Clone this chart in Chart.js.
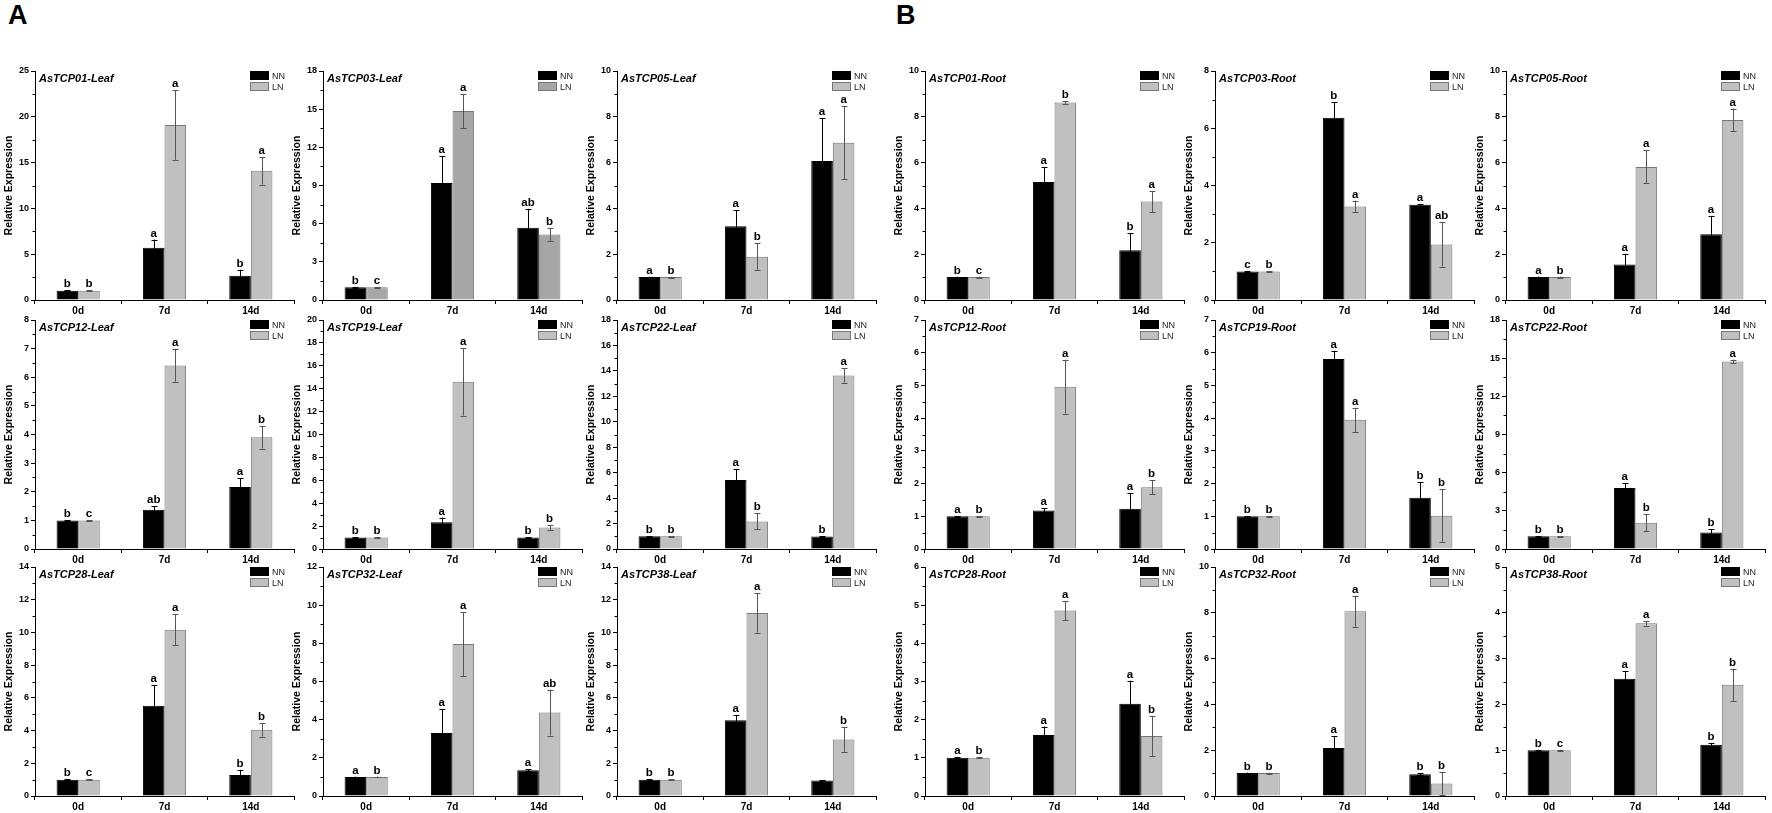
<!DOCTYPE html>
<html><head><meta charset="utf-8">
<script src="https://cdn.jsdelivr.net/npm/chart.js@4.4.1/dist/chart.umd.min.js"></script>
<style>
html,body{margin:0;padding:0;background:#fff;}
body{width:1772px;height:813px;position:relative;overflow:hidden;font-family:"Liberation Sans",Arial,sans-serif;}
canvas{position:absolute;}
.tag{position:absolute;font-weight:bold;font-size:27px;line-height:1;font-family:"Liberation Sans",Arial,sans-serif;}
</style></head><body>
<div class="tag" style="left:8px;top:2px">A</div>
<div class="tag" style="left:896px;top:2px">B</div>
<script>
// ---------------- DATA ----------------
const categories = ['0d', '7d', '14d'];
const seriesNames = ['NN', 'LN'];
const panelTitles = [
  'AsTCP01-Leaf', 'AsTCP03-Leaf', 'AsTCP05-Leaf', 'AsTCP01-Root', 'AsTCP03-Root', 'AsTCP05-Root',
  'AsTCP12-Leaf', 'AsTCP19-Leaf', 'AsTCP22-Leaf', 'AsTCP12-Root', 'AsTCP19-Root', 'AsTCP22-Root',
  'AsTCP28-Leaf', 'AsTCP32-Leaf', 'AsTCP38-Leaf', 'AsTCP28-Root', 'AsTCP32-Root', 'AsTCP38-Root'
];
const yMax   = [25, 18, 10, 10, 8, 10,   8, 20, 18, 7, 7, 18,   14, 12, 14, 6, 10, 5];
const yMajor = [ 5,  3,  2,  2, 2,  2,   1,  2,  2, 1, 1,  3,    2,  2,  2, 1,  2, 1];

const nnMean = [
  [1, 5.7, 2.65], [1, 9.2, 5.67], [1, 3.22, 6.07], [1, 5.15, 2.17], [1, 6.37, 3.33], [1, 1.55, 2.87],
  [1, 1.37, 2.17], [1, 2.34, 1.0], [1, 5.42, 0.98], [1, 1.18, 1.23], [1, 5.81, 1.57], [1, 4.8, 1.29],
  [1, 5.51, 1.28], [1, 3.3, 1.35], [1, 4.63, 0.95], [1, 1.6, 2.42], [1, 2.1, 0.95], [1, 2.56, 1.12]
];
const nnErr = [
  [0.05, 0.9, 0.65], [0.03, 2.1, 1.5], [0.02, 0.7, 1.87], [0.02, 0.65, 0.75], [0.02, 0.55, 0.03], [0.02, 0.45, 0.8],
  [0.01, 0.12, 0.3], [0.02, 0.4, 0.05], [0.02, 0.86, 0.03], [0.01, 0.07, 0.47], [0.01, 0.23, 0.47], [0.02, 0.4, 0.27],
  [0.02, 1.25, 0.32], [0.02, 1.25, 0.05], [0.02, 0.33, 0.03], [0.01, 0.22, 0.6], [0.02, 0.5, 0.05], [0.01, 0.17, 0.04]
];
const lnMean = [
  [1, 19.1, 14.1], [1, 14.85, 5.15], [1, 1.89, 6.87], [1, 8.62, 4.3], [1, 3.27, 1.94], [1, 5.81, 7.86],
  [1, 6.41, 3.9], [1, 14.6, 1.87], [1, 2.17, 13.63], [1, 4.96, 1.89], [1, 3.95, 1.02], [1, 2.06, 14.74],
  [1, 10.16, 4.05], [1, 7.96, 4.37], [1, 11.19, 3.45], [1, 4.86, 1.57], [1, 8.07, 0.55], [1, 3.77, 2.43]
];
const lnErr = [
  [0.05, 3.8, 1.5], [0.03, 1.35, 0.5], [0.02, 0.58, 1.6], [0.02, 0.07, 0.46], [0.02, 0.2, 0.77], [0.02, 0.72, 0.5],
  [0.01, 0.56, 0.39], [0.02, 2.95, 0.2], [0.02, 0.63, 0.56], [0.01, 0.82, 0.21], [0.01, 0.37, 0.81], [0.02, 0.68, 0.15],
  [0.02, 0.95, 0.42], [0.02, 1.68, 1.2], [0.02, 1.2, 0.75], [0.01, 0.25, 0.52], [0.02, 0.68, 0.5], [0.01, 0.05, 0.35]
];
const nnLetters = [
  ['b','a','b'], ['b','a','ab'], ['a','a','a'], ['b','a','b'], ['c','b','a'], ['a','a','a'],
  ['b','ab','a'], ['b','a','b'], ['b','a','b'], ['a','a','a'], ['b','a','b'], ['b','a','b'],
  ['b','a','b'], ['a','a','a'], ['b','a',''], ['a','a','a'], ['b','a','b'], ['b','a','b']
];
const lnLetters = [
  ['b','a','a'], ['c','a','b'], ['b','b','a'], ['c','b','a'], ['b','a','ab'], ['b','a','a'],
  ['c','a','b'], ['b','a','b'], ['b','b','a'], ['b','a','b'], ['b','a','b'], ['b','b','a'],
  ['c','a','b'], ['b','a','ab'], ['b','a','b'], ['b','a','b'], ['b','a','b'], ['c','a','b']
];

// ---------------- LAYOUT / STYLE ----------------
const FAMILY = '"Liberation Sans", Arial, sans-serif';
Chart.defaults.font.family = FAMILY;
const colX = [35, 323, 617, 925, 1215, 1506];
const rowTop = [71, 320, 567];
const plotW = 259, plotH = 229;
const Y_W = 35, PAD_L = 1, PAD_R = 4, PAD_T = 12, X_H = 17;
const lnFill = p => (p === 1 ? '#a6a6a6' : '#c0c0c0');
const isMajor = (v, major) => Math.abs(v / major - Math.round(v / major)) < 1e-6;

const decor = {
  id: 'decor',
  afterDatasetsDraw(chart, args, opts) {
    const p = opts.p;
    const ctx = chart.ctx;
    const ys = chart.scales.y;
    const a = chart.chartArea;
    const means = [nnMean[p], lnMean[p]];
    const errs = [nnErr[p], lnErr[p]];
    const lets = [nnLetters[p], lnLetters[p]];
    ctx.save();
    // minor y ticks (shorter)
    ctx.strokeStyle = '#000';
    ctx.lineWidth = 1;
    ctx.beginPath();
    ys.ticks.forEach(t => {
      if (!isMajor(t.value, yMajor[p])) {
        const yy = Math.round(ys.getPixelForValue(t.value)) + 0.5;
        ctx.moveTo(a.left - 2.5, yy); ctx.lineTo(a.left, yy);
      }
    });
    ctx.stroke();
    for (let d = 0; d < 2; d++) {
      const meta = chart.getDatasetMeta(d);
      meta.data.forEach((bar, i) => {
        const v = means[d][i], e = errs[d][i];
        const yt = ys.getPixelForValue(v + e);
        const yb = ys.getPixelForValue(v - e);
        const x = Math.round(bar.x) + 0.5;
        ctx.strokeStyle = d === 0 ? '#000' : '#555';
        ctx.lineWidth = 1;
        ctx.beginPath();
        ctx.moveTo(x, yt); ctx.lineTo(x, yb);
        ctx.moveTo(x - 3, Math.round(yt) + 0.5); ctx.lineTo(x + 3, Math.round(yt) + 0.5);
        ctx.moveTo(x - 3, Math.round(yb) + 0.5); ctx.lineTo(x + 3, Math.round(yb) + 0.5);
        ctx.stroke();
        if (lets[d][i]) {
          ctx.fillStyle = '#000';
          ctx.font = 'bold 11.5px ' + FAMILY;
          ctx.textAlign = 'center';
          ctx.textBaseline = 'alphabetic';
          ctx.fillText(lets[d][i], bar.x, yt - 3);
        }
      });
    }
    // panel title
    ctx.fillStyle = '#000';
    ctx.font = 'italic bold 11px ' + FAMILY;
    ctx.textAlign = 'left';
    ctx.textBaseline = 'alphabetic';
    ctx.fillText(panelTitles[p], a.left + 4, a.top + 11);
    // legend
    const lx = a.left + 215, ly = a.top;
    ctx.fillStyle = '#000';
    ctx.fillRect(lx, ly, 19, 9);
    ctx.fillStyle = lnFill(p);
    ctx.fillRect(lx, ly + 11, 19, 9);
    ctx.strokeStyle = '#777';
    ctx.strokeRect(lx + 0.5, ly + 11.5, 18, 8);
    ctx.fillStyle = '#222';
    ctx.font = '9px ' + FAMILY;
    ctx.fillText(seriesNames[0], lx + 22, ly + 8);
    ctx.fillText(seriesNames[1], lx + 22, ly + 19);
    ctx.restore();
  }
};

for (let p = 0; p < 18; p++) {
  const r = Math.floor(p / 6), c = p % 6;
  const cv = document.createElement('canvas');
  const w = PAD_L + Y_W + plotW + PAD_R;
  const h = PAD_T + plotH + X_H;
  cv.width = w; cv.height = h;
  cv.style.width = w + 'px'; cv.style.height = h + 'px';
  cv.style.left = (colX[c] - Y_W - PAD_L) + 'px';
  cv.style.top = (rowTop[r] - PAD_T) + 'px';
  document.body.appendChild(cv);
  const major = yMajor[p];
  new Chart(cv, {
    type: 'bar',
    data: {
      labels: categories,
      datasets: [
        { label: seriesNames[0], data: nnMean[p], backgroundColor: '#000', borderColor: '#000', borderWidth: 1,
          categoryPercentage: 0.5, barPercentage: 1.0 },
        { label: seriesNames[1], data: lnMean[p], backgroundColor: lnFill(p), borderColor: '#777', borderWidth: 1,
          categoryPercentage: 0.5, barPercentage: 1.0 }
      ]
    },
    options: {
      responsive: false,
      animation: false,
      devicePixelRatio: 1,
      layout: { padding: { left: PAD_L, right: PAD_R, top: PAD_T, bottom: 0 } },
      plugins: { legend: { display: false }, tooltip: { enabled: false }, decor: { p } },
      scales: {
        x: {
          grid: { display: true, drawOnChartArea: false, drawTicks: true, tickLength: 4, color: '#000', offset: true },
          border: { color: '#000', width: 1 },
          ticks: { font: { weight: 'bold', size: 10 }, color: '#000', padding: 1, autoSkip: false, maxRotation: 0 },
          afterFit: s => { s.height = X_H; }
        },
        y: {
          min: 0, max: yMax[p],
          grid: { display: true, drawOnChartArea: false, drawTicks: true, tickLength: 4,
                  color: '#000',
                  tickColor: ctx => (ctx.tick && isMajor(ctx.tick.value, major) ? '#000' : 'rgba(0,0,0,0)') },
          border: { color: '#000', width: 1 },
          ticks: {
            stepSize: major / 2, autoSkip: false, color: '#000', padding: 2,
            font: { weight: 'bold', size: 9 },
            callback: v => (isMajor(v, major) ? String(Math.round(v * 100) / 100) : '')
          },
          title: { display: true, text: 'Relative Expression', color: '#000',
                   font: { weight: 'bold', size: 10.5 }, padding: { top: 3, bottom: 0 } },
          afterFit: s => { s.width = Y_W; }
        }
      }
    },
    plugins: [decor]
  });
}
</script>
</body></html>
